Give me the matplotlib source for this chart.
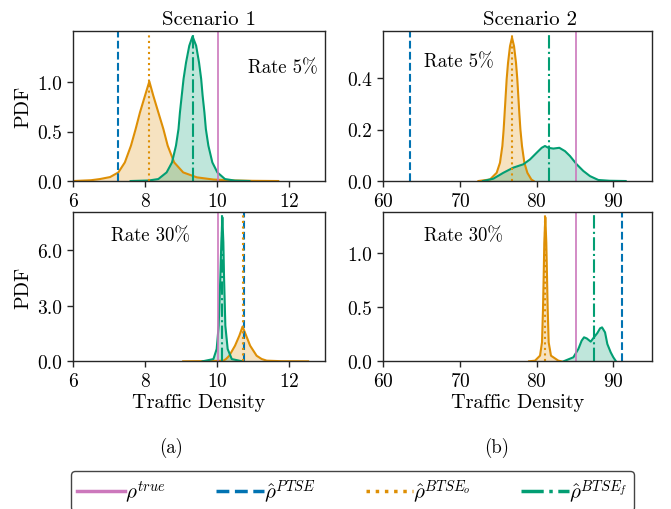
import matplotlib
matplotlib.use("Agg")
import matplotlib.pyplot as plt
from matplotlib.lines import Line2D
from matplotlib.ticker import FormatStrFormatter

plt.rcParams['font.family'] = 'serif'
plt.rcParams['font.serif'] = ['cmr10']
plt.rcParams['mathtext.fontset'] = 'cm'
plt.rcParams['axes.formatter.use_mathtext'] = True

# colours (seaborn colorblind)
c_true = '#cc78bc'
c_ptse = '#0173b2'
c_bo = '#de8f05'
c_bf = '#029e73'

# Scenario 1, rate 5%
s1r5_o_x = [6.0, 6.5, 6.75, 7.03, 7.26, 7.44, 7.61, 7.74, 7.86, 8.0, 8.12, 8.23, 8.37, 8.51, 8.63, 8.81, 9.06, 9.44, 9.9, 10.4, 11.0, 11.7]
s1r5_o_y = [0.0, 0.008, 0.02, 0.04, 0.087, 0.188, 0.357, 0.525, 0.693, 0.862, 1.006, 0.862, 0.693, 0.525, 0.357, 0.188, 0.087, 0.037, 0.015, 0.006, 0.002, 0.0]
s1r5_f_x = [7.6, 8.1, 8.37, 8.6, 8.75, 8.86, 8.93, 8.97, 9.02, 9.07, 9.14, 9.23, 9.32, 9.42, 9.5, 9.56, 9.6, 9.65, 9.69, 9.76, 9.87, 10.01, 10.22, 10.5, 10.9]
s1r5_f_y = [0.0, 0.005, 0.02, 0.087, 0.188, 0.357, 0.525, 0.693, 0.862, 1.03, 1.198, 1.367, 1.461, 1.367, 1.198, 1.03, 0.862, 0.693, 0.525, 0.357, 0.188, 0.087, 0.02, 0.004, 0.0]
s1r5_lines = [10.02, 7.24, 8.12, 9.33]  # true, PTSE, BTSE_o, BTSE_f

# Scenario 2, rate 5%
s2r5_o_x = [72.4, 73.91, 74.78, 75.21, 75.52, 75.69, 75.82, 75.95, 76.08, 76.26, 76.52, 76.78, 77.04, 77.30, 77.47, 77.60, 77.73, 77.87, 78.08, 78.39, 78.78, 79.3, 79.6]
s2r5_o_y = [0.0, 0.006, 0.032, 0.071, 0.136, 0.201, 0.265, 0.330, 0.395, 0.459, 0.524, 0.557, 0.524, 0.459, 0.395, 0.330, 0.265, 0.201, 0.136, 0.071, 0.032, 0.006, 0.0]
s2r5_f_x = [73.0, 74.34, 75.65, 76.95, 78.26, 79.13, 80.0, 80.65, 81.08, 81.52, 82.17, 82.95, 83.69, 84.34, 85.21, 86.08, 86.95, 88.04, 89.5, 91.6]
s2r5_f_y = [0.0, 0.009, 0.032, 0.052, 0.065, 0.084, 0.110, 0.129, 0.136, 0.129, 0.126, 0.129, 0.116, 0.097, 0.065, 0.039, 0.019, 0.004, 0.001, 0.0]
s2r5_lines = [85.06, 63.52, 76.78, 81.56]

# Scenario 1, rate 30%
s1r30_o_x = [9.06, 9.8, 10.18, 10.25, 10.34, 10.5, 10.62, 10.71, 10.81, 10.92, 11.1, 11.24, 11.38, 11.8, 12.53]
s1r30_o_y = [0.0, 0.01, 0.035, 0.124, 0.30, 0.84, 1.38, 1.87, 1.38, 0.84, 0.30, 0.124, 0.035, 0.005, 0.0]
s1r30_f_x = [9.6, 9.90, 9.99, 10.046, 10.093, 10.12, 10.148, 10.176, 10.194, 10.231, 10.296, 10.41, 10.7]
s1r30_f_y = [0.0, 0.12, 0.66, 1.92, 4.61, 6.41, 7.76, 6.41, 4.61, 1.92, 0.66, 0.12, 0.0]
s1r30_lines = [10.02, 10.75, 10.71, 10.15]

# Scenario 2, rate 30%
s2r30_o_x = [79.0, 79.78, 80.43, 80.69, 80.82, 80.91, 80.99, 81.12, 81.25, 81.34, 81.43, 81.56, 81.86, 82.82, 83.2]
s2r30_o_y = [0.0, 0.006, 0.052, 0.175, 0.484, 0.793, 1.10, 1.333, 1.10, 0.793, 0.484, 0.175, 0.052, 0.006, 0.0]
s2r30_f_x = [83.5, 84.78, 85.43, 85.86, 86.17, 86.52, 87.04, 87.47, 87.91, 88.26, 88.52, 88.91, 89.21, 89.65, 89.99, 90.34]
s2r30_f_y = [0.0, 0.037, 0.114, 0.191, 0.222, 0.212, 0.182, 0.222, 0.262, 0.305, 0.314, 0.268, 0.16, 0.083, 0.037, 0.0]
s2r30_lines = [85.06, 91.17, 81.12, 87.52]

legend_labels = [r'$\rho^{true}$', r'$\hat{\rho}^{PTSE}$', r'$\hat{\rho}^{BTSE_o}$', r'$\hat{\rho}^{BTSE_f}$']

fig = plt.figure(figsize=(6.71, 5.10), dpi=100)
ax_tl = fig.add_axes([0.1088, 0.6431, 0.3756, 0.2941])
ax_tr = fig.add_axes([0.5713, 0.6431, 0.4000, 0.2941])
ax_bl = fig.add_axes([0.1088, 0.2896, 0.3756, 0.2934])
ax_br = fig.add_axes([0.5713, 0.2896, 0.4000, 0.2934])

panels = [
    (ax_tl, s1r5_o_x, s1r5_o_y, s1r5_f_x, s1r5_f_y, s1r5_lines, (6, 13), 1.515, [0, 0.5, 1.0], 'Rate 5%'),
    (ax_tr, s2r5_o_x, s2r5_o_y, s2r5_f_x, s2r5_f_y, s2r5_lines, (60, 95), 0.5825, [0, 0.2, 0.4], 'Rate 5%'),
    (ax_bl, s1r30_o_x, s1r30_o_y, s1r30_f_x, s1r30_f_y, s1r30_lines, (6, 13), 8.06, [0, 3.0, 6.0], 'Rate 30%'),
    (ax_br, s2r30_o_x, s2r30_o_y, s2r30_f_x, s2r30_f_y, s2r30_lines, (60, 95), 1.385, [0, 0.5, 1.0], 'Rate 30%'),
]

for ax, ox, oy, fx, fy, vl, xl, ytop, yt, txt in panels:
    ax.fill_between(ox, oy, color=c_bo, alpha=0.25, lw=0)
    ax.plot(ox, oy, color=c_bo, lw=1.5)
    ax.fill_between(fx, fy, color=c_bf, alpha=0.25, lw=0)
    ax.plot(fx, fy, color=c_bf, lw=1.5)
    ax.axvline(vl[0], color=c_true, ls='-', lw=1.2)
    ax.axvline(vl[1], color=c_ptse, ls='--', lw=1.5)
    ax.axvline(vl[2], color=c_bo, ls=':', lw=1.5)
    ax.axvline(vl[3], color=c_bf, ls='-.', lw=1.5)
    ax.set_xlim(*xl)
    ax.set_ylim(0, ytop)
    ax.set_yticks(yt)
    ax.yaxis.set_major_formatter(FormatStrFormatter('%.1f'))
    ax.tick_params(labelsize=14, length=4.5, width=1, color='#262626')
    for sp in ax.spines.values():
        sp.set_color('#262626')
        sp.set_linewidth(1)
    if ax is ax_tl:
        ax.text(0.97, 0.76, txt, transform=ax.transAxes, ha='right', va='center', fontsize=13.5)
    else:
        ax.text(0.15, 0.80 if ax is ax_tr else 0.84, txt, transform=ax.transAxes, ha='left', va='center', fontsize=13.5)

ax_tl.set_xticks([6, 8, 10, 12])
ax_bl.set_xticks([6, 8, 10, 12])
ax_tr.set_xticks([60, 70, 80, 90])
ax_br.set_xticks([60, 70, 80, 90])

ax_tl.set_title('Scenario 1', fontsize=15, x=0.54, pad=5)
ax_tr.set_title('Scenario 2', fontsize=15, x=0.545, pad=5)
ax_tl.set_ylabel('PDF', fontsize=14.5)
ax_bl.set_ylabel('PDF', fontsize=14.5)
ax_tl.yaxis.set_label_coords(-0.16, 0.5)
ax_bl.yaxis.set_label_coords(-0.16, 0.5)
ax_bl.set_xlabel('Traffic Density', fontsize=14.5, labelpad=2)
ax_br.set_xlabel('Traffic Density', fontsize=14.5, labelpad=2)

fig.text(171 / 671, 1 - 448 / 510, '(a)', ha='center', va='center', fontsize=13.5)
fig.text(497 / 671, 1 - 448 / 510, '(b)', ha='center', va='center', fontsize=13.5)

handles = [
    Line2D([], [], color=c_true, ls='-', lw=2.5),
    Line2D([], [], color=c_ptse, ls='--', lw=2.5),
    Line2D([], [], color=c_bo, ls=':', lw=2.5),
    Line2D([], [], color=c_bf, ls='-.', lw=2.5),
]
leg = fig.legend(handles, legend_labels, loc='upper center', bbox_to_anchor=(0.5253, 0.0745),
                 ncol=4, fontsize=15, handlelength=2.3, handletextpad=0.0, columnspacing=2.4,
                 borderpad=0.3, borderaxespad=0.0, frameon=True, fancybox=True, framealpha=1)
leg.get_frame().set_edgecolor('#444444')
leg.get_frame().set_linewidth(1)

fig.savefig('out.png', dpi=100)
